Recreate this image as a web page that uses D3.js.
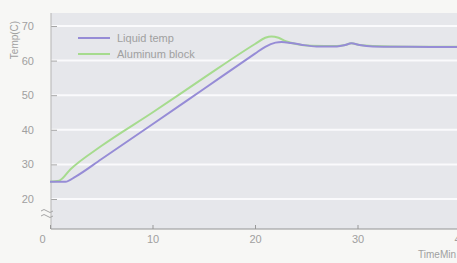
<!DOCTYPE html>
<html>
<head>
	<meta charset="utf-8">
	<title>temp-chart</title>
	<script type="text/javascript" src="https://cdn.jsdelivr.net/npm/d3@7"></script>
	<style type="text/css">
		body{
			margin: 0;
			background-color: #f7f7f5;
		}
		svg text{
			font-family: "Liberation Sans", Arial, sans-serif;
			fill: #a0a0a0;
		}
	</style>
</head>
<body>
	<div id="chart"></div>
	<script type="text/javascript">
		// data (time in min, temp in C)
		var liquidT = [0, 1.5, 2.5, 5, 10, 15, 20, 21, 22, 22.6, 23.5, 24.5, 26, 28, 28.8, 29.4, 30.2, 31.5, 35, 40];
		var liquidV = [25, 25, 26.5, 31.5, 41.6, 51.8, 62, 64, 65.2, 65.4, 65.1, 64.6, 64.1, 64.1, 64.5, 65, 64.5, 64.1, 64, 63.9];
		var blockT = [0, 0.9, 2, 5, 10, 15, 20, 21, 21.6, 22.3, 23, 24, 25.5, 28, 28.8, 29.4, 30.2, 31.5, 35, 40];
		var blockV = [25, 25.3, 28.6, 35.3, 45, 55, 64.8, 66.6, 67, 66.6, 65.6, 64.8, 64.3, 64.2, 64.5, 65, 64.5, 64.2, 64, 64];
		var xTicks = [0, 10, 20, 30, 40];
		var yTicks = [20, 30, 40, 50, 60, 70];
		var legendNames = ['Liquid temp', 'Aluminum block'];
		var colors = ['#968cd6', '#a6db8e'];

		var W = 457, H = 263;
		var svg = d3.select('#chart').append('svg')
			.attr('width', W).attr('height', H);

		var x = d3.scaleLinear().domain([0, 40]).range([50, 460]);
		var y = d3.scaleLinear().domain([20, 70]).range([199, 26]);
		var plotTop = 13, plotBottom = 229, plotLeft = 51;

		// plot background
		svg.append('rect')
			.attr('x', plotLeft).attr('y', plotTop)
			.attr('width', W - plotLeft).attr('height', plotBottom - plotTop)
			.attr('fill', '#e6e7eb');

		// grid lines
		svg.append('g').selectAll('line').data(yTicks).enter().append('line')
			.attr('x1', plotLeft).attr('x2', W)
			.attr('y1', function(d){ return y(d); })
			.attr('y2', function(d){ return y(d); })
			.attr('stroke', '#fafafc')
			.attr('stroke-width', 2);

		// y axis
		var yAxis = svg.append('g')
			.attr('transform', 'translate(' + plotLeft + ',0)')
			.call(d3.axisLeft(y).tickValues(yTicks).tickSize(-6).tickPadding(17));
		yAxis.select('.domain').remove();
		yAxis.selectAll('.tick line').attr('stroke', '#a5a5a5');
		yAxis.selectAll('.tick text').style('font-size', '11px').attr('fill', '#a8a8a8');
		svg.append('line')
			.attr('x1', plotLeft).attr('x2', plotLeft)
			.attr('y1', plotTop).attr('y2', plotBottom)
			.attr('stroke', '#b5b5b5');

		// x axis
		var xAxis = svg.append('g')
			.attr('transform', 'translate(0,' + plotBottom + ')')
			.call(d3.axisBottom(x).tickValues(xTicks).tickSize(-4).tickPadding(6));
		xAxis.select('.domain').remove();
		xAxis.selectAll('.tick line').attr('stroke', '#999');
		xAxis.selectAll('.tick text').style('font-size', '11px').attr('fill', '#a8a8a8')
			.attr('dx', function(d){ return d === 0 ? -8 : 0; });
		svg.append('line')
			.attr('x1', plotLeft).attr('x2', W)
			.attr('y1', plotBottom).attr('y2', plotBottom)
			.attr('stroke', '#959595');

		// axis break mark
		svg.append('path')
			.attr('d', 'M41,211 q3,-3 6,0 t6,0 M41,216 q3,-3 6,0 t6,0')
			.attr('fill', 'none').attr('stroke', '#a5a5a5').attr('stroke-width', 1);

		// axis titles
		svg.append('text')
			.attr('transform', 'translate(18,40) rotate(-90)')
			.attr('text-anchor', 'middle')
			.style('font-size', '10px')
			.text('Temp(C)');
		svg.append('text')
			.attr('x', 456).attr('y', 258)
			.attr('text-anchor', 'end')
			.style('font-size', '10px')
			.text('TimeMin');

		// lines
		var line = d3.line()
			.x(function(d){ return x(d[0]); })
			.y(function(d){ return y(d[1]); })
			.curve(d3.curveMonotoneX);
		var series = [
			d3.zip(liquidT, liquidV),
			d3.zip(blockT, blockV)
		];
		// block first so the liquid line sits on top where they overlap
		[1, 0].forEach(function(i){
			svg.append('path')
				.datum(series[i])
				.attr('d', line)
				.attr('fill', 'none')
				.attr('stroke', colors[i])
				.attr('stroke-width', 2);
		});

		// legend
		var legend = svg.append('g');
		legendNames.forEach(function(name, i){
			var ly = 38 + i * 16;
			legend.append('line')
				.attr('x1', 78).attr('x2', 110)
				.attr('y1', ly).attr('y2', ly)
				.attr('stroke', colors[i]).attr('stroke-width', 2);
			legend.append('text')
				.attr('x', 117).attr('y', ly + 4)
				.style('font-size', '11px')
				.attr('fill', '#858585')
				.text(name);
		});
	</script>
</body>
</html>
